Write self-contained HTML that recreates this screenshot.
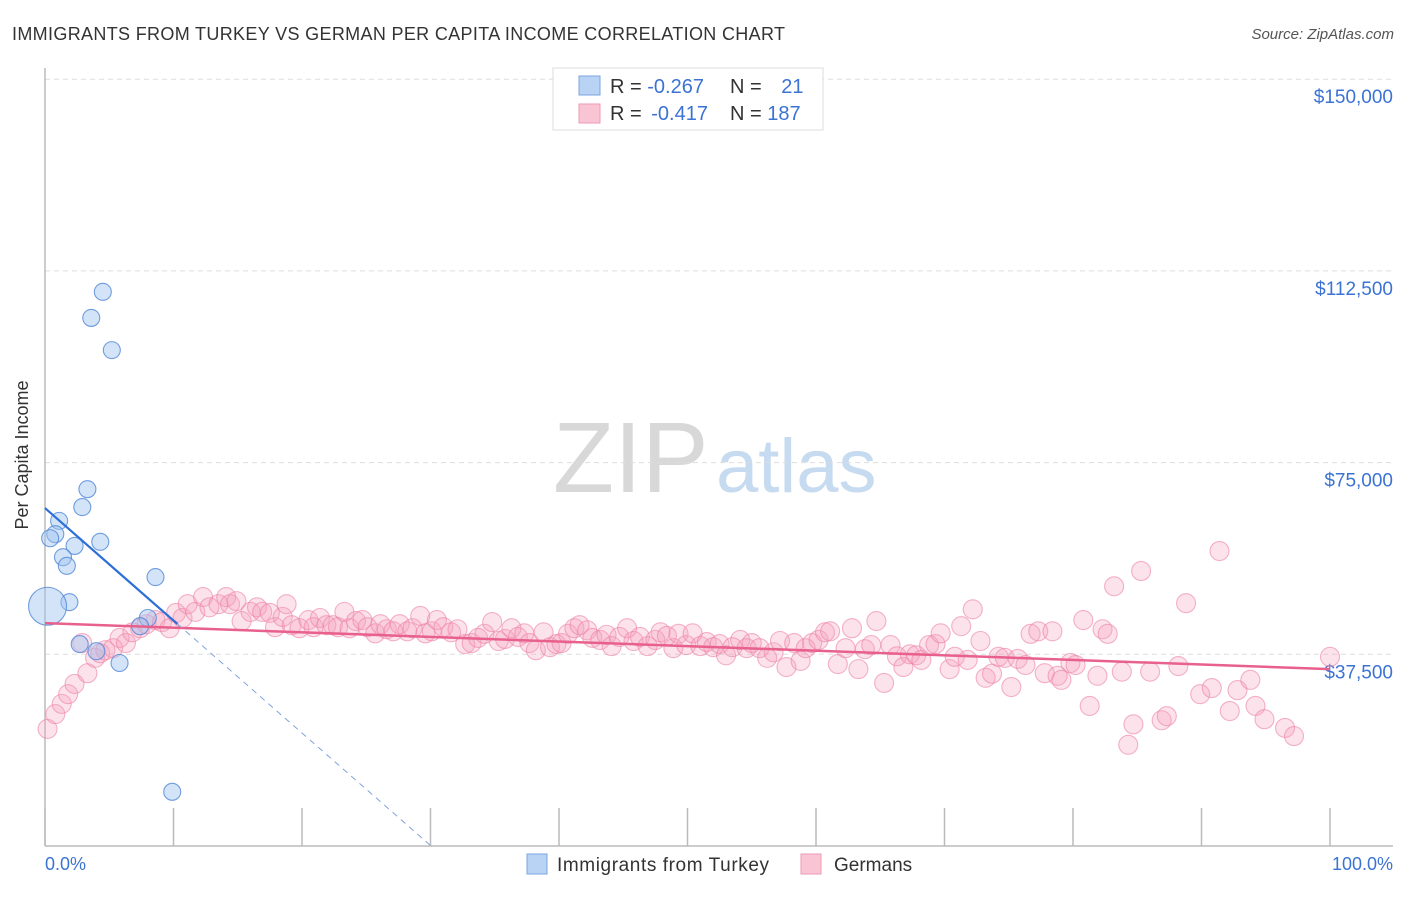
<!DOCTYPE html>
<html><head><meta charset="utf-8"><style>
body{margin:0;background:#fff;font-family:"Liberation Sans",sans-serif;}
svg text{font-family:"Liberation Sans",sans-serif;}
</style></head><body>
<svg width="1406" height="892" viewBox="0 0 1406 892">
<text x="12" y="40" font-size="18" fill="#333" textLength="773">IMMIGRANTS FROM TURKEY VS GERMAN PER CAPITA INCOME CORRELATION CHART</text>
<text x="1394" y="39" font-size="15" fill="#555" font-style="italic" text-anchor="end">Source: ZipAtlas.com</text>
<g>
<text x="553" y="492" font-size="100" fill="#d8d8d8" font-family="Liberation Serif, serif">ZIP</text>
<text x="716" y="492" font-size="76" fill="#c6daf0">atlas</text>
</g>
<g id="grid"></g>
<line x1="45" y1="68" x2="45" y2="846" stroke="#bbb" stroke-width="1.5"/>
<line x1="45" y1="846" x2="1393" y2="846" stroke="#bbb" stroke-width="1.5"/>
<text x="28" y="455" font-size="18" fill="#333" text-anchor="middle" transform="rotate(-90 28 455)">Per Capita Income</text>
<text x="45" y="870" font-size="18" fill="#3b73d4">0.0%</text>
<text x="1393" y="870" font-size="18" fill="#3b73d4" text-anchor="end">100.0%</text>
<g id="pts"></g>
<g id="lines"></g>
<g>
<rect x="553" y="68" width="270" height="62" fill="#fff" stroke="#ddd"/>
<rect x="579" y="76" width="21" height="19" fill="#b9d3f5" stroke="#7aa6e0"/>
<rect x="579" y="104" width="21" height="19" fill="#f9c5d5" stroke="#ee9ab5"/>
<text x="610" y="93" font-size="20" fill="#333">R = <tspan fill="#3b73d4">-0.267</tspan></text>
<text x="730" y="93" font-size="20" fill="#333">N = <tspan fill="#3b73d4" dx="14">21</tspan></text>
<text x="610" y="120" font-size="20" fill="#333">R = <tspan fill="#3b73d4" dx="4">-0.417</tspan></text>
<text x="730" y="120" font-size="20" fill="#333">N = <tspan fill="#3b73d4">187</tspan></text>
</g>
<g>
<rect x="527" y="854" width="20" height="20" fill="#b9d3f5" stroke="#7aa6e0"/>
<text x="557" y="871" font-size="19" fill="#333" textLength="212">Immigrants from Turkey</text>
<rect x="801" y="854" width="20" height="20" fill="#f9c5d5" stroke="#ee9ab5"/>
<text x="834" y="871" font-size="19" fill="#333">Germans</text>
</g>
</svg>
<script>
const yTicks=[37500,75000,112500,150000];
const yTickLabels=["$37,500","$75,000","$112,500","$150,000"];
const xTicks=[0,10,20,30,40,50,60,70,80,90,100];
const turkeyX=[4.5,3.6,5.2,3.3,2.9,1.1,0.8,0.4,4.3,2.3,1.4,1.7,8.6,1.9,0.2,8.0,7.4,2.7,4.0,5.8,9.9];
const turkeyY=[108.4,103.3,97.0,69.8,66.3,63.6,61.0,60.2,59.5,58.7,56.5,54.8,52.6,47.7,46.9,44.6,43.0,39.5,38.1,35.8,10.6];
const turkeyBig=[0,0,0,0,0,0,0,0,0,0,0,0,0,0,1,0,0,0,0,0,0];
const germanX=[0.2,0.8,1.3,1.8,2.3,3.3,3.9,4.3,4.7,5.3,5.8,6.3,6.8,7.4,2.9,7.9,8.6,9.1,9.7,10.2,10.7,11.1,11.7,12.3,12.8,13.5,14.1,14.4,14.9,15.3,16.0,16.5,16.9,17.5,17.9,18.5,18.8,19.2,19.8,20.5,20.9,21.4,21.9,22.4,22.8,23.3,23.7,24.2,24.7,25.1,25.7,26.1,26.6,27.1,27.6,28.2,28.6,29.2,29.6,30.1,30.5,31.0,31.6,32.1,32.7,33.2,33.7,34.2,34.8,35.3,35.8,36.3,36.8,37.3,37.7,38.2,38.8,39.3,39.8,40.2,40.7,41.2,41.6,42.2,42.6,43.2,43.7,44.1,44.7,45.3,45.8,46.3,46.9,47.5,47.9,48.4,48.9,49.3,49.9,50.4,51.0,51.5,52.0,52.5,53.0,53.5,54.1,54.6,55.0,55.6,56.2,56.7,57.2,57.7,58.3,58.8,59.2,59.7,60.2,60.7,61.1,61.7,62.3,62.8,63.3,63.8,64.3,64.7,65.3,65.8,66.3,66.8,67.3,67.8,68.2,68.8,69.3,69.7,70.4,70.8,71.3,71.8,72.2,72.8,73.2,73.7,74.2,74.7,75.2,75.7,76.3,76.7,77.3,77.8,78.4,78.8,79.1,79.8,80.2,80.8,81.3,81.9,82.3,82.7,83.2,83.8,84.3,84.7,85.3,86.0,86.9,87.3,88.2,88.8,89.9,90.8,91.4,92.2,92.8,93.8,94.2,94.9,96.5,97.2,100.0];
const germanY=[22.9,25.8,27.8,29.7,31.7,33.8,36.8,37.7,38.3,38.7,40.7,39.7,41.8,42.6,39.7,43.4,44.2,43.8,42.6,45.6,44.6,47.3,45.8,48.7,46.7,47.3,48.7,47.3,47.9,44.0,45.8,46.7,45.8,45.6,42.8,44.8,47.3,43.2,42.6,44.2,42.8,44.6,43.2,43.2,42.8,45.8,42.6,44.0,44.2,42.8,41.6,43.4,42.4,42.0,43.4,42.0,42.6,45.0,41.6,42.0,44.2,42.8,41.8,42.4,39.5,39.7,40.7,41.5,43.8,40.1,40.5,42.6,40.9,41.6,39.7,38.3,41.8,38.9,39.5,39.7,41.5,42.6,43.2,42.2,40.7,40.3,41.3,39.1,40.9,42.6,40.1,40.9,39.1,40.3,41.8,41.1,38.7,41.5,39.3,41.6,39.1,39.9,38.9,39.5,37.3,38.9,40.3,38.7,39.7,38.7,36.8,37.9,40.1,35.0,39.7,36.2,38.7,39.7,40.3,41.8,42.0,35.6,38.7,42.6,34.6,38.5,39.3,44.0,31.9,39.3,37.1,35.0,37.5,37.3,36.4,39.3,39.5,41.6,34.6,37.0,43.0,36.4,46.3,40.1,32.9,33.7,37.0,36.8,31.1,36.6,35.4,41.5,42.0,33.8,42.0,33.3,32.5,35.8,35.4,44.2,27.4,33.3,42.4,41.5,50.8,34.1,19.8,23.8,53.8,34.1,24.6,25.4,35.2,47.5,29.7,30.9,57.7,26.4,30.5,32.5,27.4,24.8,23.1,21.5,37.0];
const turkeyTrend=[66.1,-2.2];
const germanTrend=[43.6,34.6];

const NS="http://www.w3.org/2000/svg";
function sx(v){return 45+v*12.85;}
function syv(val){return 846-val/37500*191.7;}
function mk(t,a,p){const e=document.createElementNS(NS,t);for(const k in a)e.setAttribute(k,a[k]);p.appendChild(e);return e;}
const grid=document.getElementById('grid');
yTicks.forEach((v,i)=>{
 const l=mk('line',{x1:45,x2:1393,y1:syv(v),y2:syv(v),stroke:'#ddd','stroke-dasharray':'5,4'},grid);
 
 
 const t=mk('text',{x:1393,y:syv(v)+24,'font-size':19,fill:'#3b73d4','text-anchor':'end'},grid);
 t.textContent=yTickLabels[i];
 
 
});
xTicks.forEach(v=>{
 const l=mk('line',{x1:sx(v),x2:sx(v),y1:808,y2:846,stroke:'#bbb','stroke-width':1.5},grid);
 
 
});
const pts=document.getElementById('pts');
germanX.forEach((x,i)=>{
 const c=mk('circle',{cx:sx(x),cy:syv(germanY[i]*1000),r:9.5,fill:'rgba(246,160,188,0.3)',stroke:'rgba(236,130,165,0.6)','stroke-width':1.1},pts);
 
 
});
turkeyX.forEach((x,i)=>{
 const c=mk('circle',{cx:sx(x),cy:syv(turkeyY[i]*1000),r:turkeyBig[i]?19:8.5,fill:'rgba(160,196,240,0.45)',stroke:'rgba(80,135,215,0.8)','stroke-width':1.1},pts);
 
 
});
const lines=document.getElementById('lines');
const g1=mk('line',{x1:sx(0),y1:syv(germanTrend[0]*1000),x2:sx(100),y2:syv(germanTrend[1]*1000),stroke:'#e8608c','stroke-width':2.5},lines);


const tf=x=>turkeyTrend[0]+turkeyTrend[1]*x;
const xEnd=-turkeyTrend[0]/turkeyTrend[1];
const t1=mk('line',{x1:sx(0),y1:syv(tf(0)*1000),x2:sx(10.3),y2:syv(tf(10.3)*1000),stroke:'#2d6fd6','stroke-width':2.2},lines);


const t2=mk('line',{x1:sx(10.3),y1:syv(tf(10.3)*1000),x2:sx(xEnd),y2:syv(0),stroke:'#7fa3dd','stroke-width':1,'stroke-dasharray':'6,5'},lines);


</script>
</body></html>
